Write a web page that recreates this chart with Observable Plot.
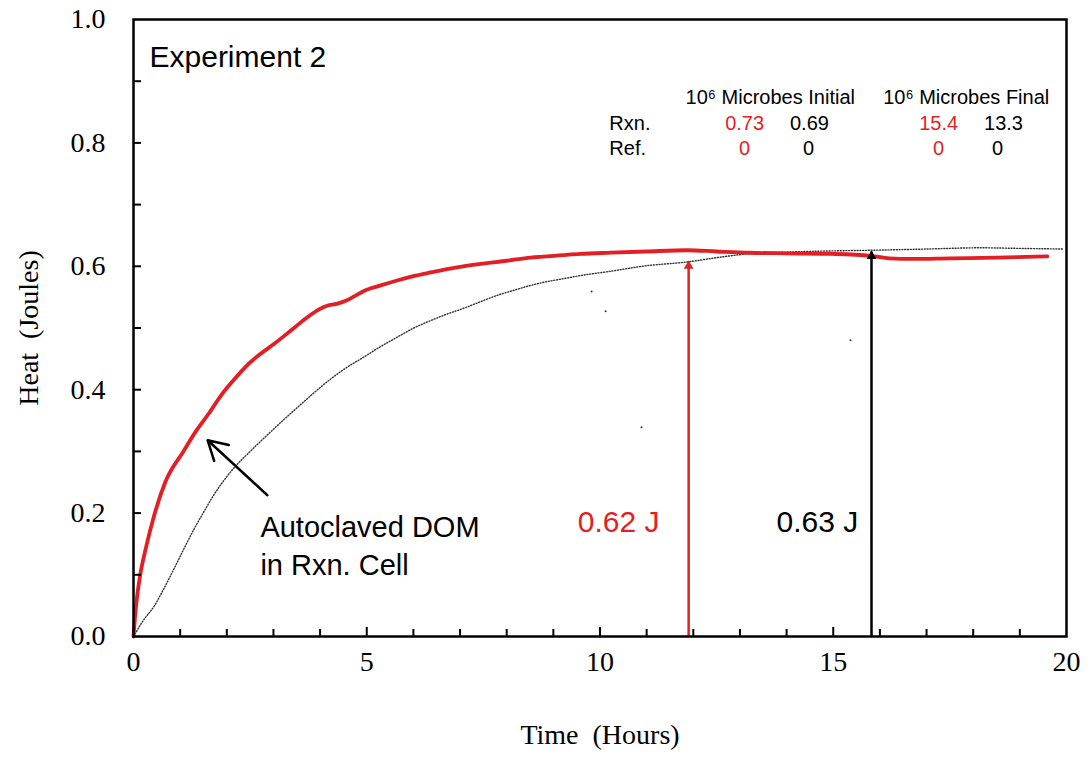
<!DOCTYPE html>
<html><head><meta charset="utf-8">
<script src="https://cdn.jsdelivr.net/npm/d3@7"></script>
<script src="https://cdn.jsdelivr.net/npm/@observablehq/plot@0.6"></script>
<style>body{margin:0;background:#fff}</style>
</head><body><div id="chart"></div>
<script>
// ---- data ----
const rxnTime = [0,0.03,0.07,0.14,0.28,0.45,0.68,1.07,1.35,1.61,1.89,2.14,2.44,2.72,3.01,3.44,3.72,3.95,4.15,4.35,4.55,4.75,4.94,5.3,5.65,6.0,6.37,6.9,7.44,8.0,8.51,9.2,9.58,10.23,11.0,11.87,12.5,13.2,14.0,15.0,15.8,16.2,16.7,17.5,18.5,19.59];
const rxnHeat = [0,0.03,0.06,0.098,0.148,0.198,0.25,0.30,0.334,0.361,0.392,0.415,0.44,0.458,0.474,0.50,0.517,0.529,0.536,0.539,0.544,0.552,0.560,0.569,0.577,0.584,0.590,0.598,0.604,0.609,0.614,0.618,0.620,0.622,0.624,0.626,0.624,0.622,0.621,0.620,0.617,0.613,0.612,0.613,0.614,0.616];
const refTime = [0,0.21,0.45,0.64,0.85,1.1,1.29,1.5,1.71,2.14,2.5,2.86,3.2,3.57,3.9,4.22,4.55,4.94,5.3,5.65,6.01,6.37,6.7,7.08,7.45,7.8,8.15,8.51,8.85,9.22,9.58,10.23,11.0,11.87,12.5,13.15,14.0,15.0,15.8,17.0,18.16,19.0,19.94];
const refHeat = [0,0.026,0.05,0.076,0.107,0.145,0.173,0.201,0.228,0.272,0.30,0.326,0.35,0.375,0.397,0.417,0.435,0.453,0.470,0.485,0.50,0.512,0.522,0.532,0.543,0.553,0.561,0.569,0.575,0.580,0.585,0.592,0.601,0.607,0.614,0.620,0.623,0.625,0.626,0.628,0.630,0.629,0.628];
const strayTime = [9.82,10.12,15.37,10.89];
const strayHeat = [0.559,0.527,0.48,0.339];

const xTickLabels = [0,5,10,15,20];
const yTickLabels = [0,0.2,0.4,0.6,0.8,1.0];
const xMinorTicks = [1,2,3,4,6,7,8,9,11,12,13,14,16,17,18,19];
const xMajorTicks = [5,10,15];
const yMinorTicks = [0.1,0.2,0.3,0.4,0.5,0.6,0.7,0.8,0.9];

const tableHeaders = ["10⁶ Microbes Initial","10⁶ Microbes Final"];
const tableRows = ["Rxn.","Ref."];
const initialRxn = ["0.73","0.69"];   // [red, black]
const initialRef = ["0","0"];
const finalRxn = ["15.4","13.3"];
const finalRef = ["0","0"];

const finalHeatLabels = ["0.62 J","0.63 J"];   // [red, black]
const arrowTimes = [11.9, 15.82];
const arrowHeats = [0.607, 0.623];

const RED = "#e31e24";
const W = 1092, H = 757, mL = 133, mR = 26, mT = 19, mB = 121;
const plotW = W - mL - mR, plotH = H - mT - mB;
const SANS = "Liberation Sans, Arial, sans-serif";
const SERIF = "Liberation Serif, Times New Roman, serif";

const rxn = rxnTime.map((t,i)=>({t, h: rxnHeat[i]}));
const ref = refTime.map((t,i)=>({t, h: refHeat[i]}));
const stray = strayTime.map((t,i)=>({t, h: strayHeat[i]}));

// table layout (positions in data units)
const colX = {hdr:[13.65,17.85], red:[13.1,17.26], blk:[14.49,18.65], blk0:[14.47,18.52]};
const rowY = {hdr:0.874, rxn:0.831, ref:0.791};
const tableCells = [
  ...tableHeaders.map((s,i)=>({x:colX.hdr[i], y:rowY.hdr, s, c:"black", a:"middle"})),
  ...tableRows.map((s,i)=>({x:10.2, y:i===0?rowY.rxn:rowY.ref, s, c:"black", a:"start"})),
  {x:colX.red[0], y:rowY.rxn, s:initialRxn[0], c:RED, a:"middle"},
  {x:colX.blk[0], y:rowY.rxn, s:initialRxn[1], c:"black", a:"middle"},
  {x:colX.red[0], y:rowY.ref, s:initialRef[0], c:RED, a:"middle"},
  {x:colX.blk0[0], y:rowY.ref, s:initialRef[1], c:"black", a:"middle"},
  {x:colX.red[1], y:rowY.rxn, s:finalRxn[0], c:RED, a:"middle"},
  {x:colX.blk[1], y:rowY.rxn, s:finalRxn[1], c:"black", a:"middle"},
  {x:colX.red[1], y:rowY.ref, s:finalRef[0], c:RED, a:"middle"},
  {x:colX.blk0[1], y:rowY.ref, s:finalRef[1], c:"black", a:"middle"}
];

const arrows = arrowTimes.map((t,i)=>({t, h: arrowHeats[i], c: i===0?RED:"black"}));
const heatLabels = finalHeatLabels.map((s,i)=>({s, x: i===0?10.4:14.66, c: i===0?RED:"black"}));

const chart = Plot.plot({
  width: W, height: H,
  marginLeft: mL, marginRight: mR, marginTop: mT, marginBottom: mB,
  style: {background:"white", fontFamily: SERIF},
  x: {domain:[0,20]},
  y: {domain:[0,1]},
  marks: [
    Plot.line(ref, {x:"t", y:"h", stroke:"#333", strokeWidth:1.4, strokeDasharray:"1,1.8", curve:"monotone-x"}),
    Plot.dot(stray, {x:"t", y:"h", r:1, fill:"#333"}),
    Plot.line(rxn, {x:"t", y:"h", stroke:RED, strokeWidth:3.8, curve:"monotone-x"}),
    Plot.ruleX(arrows, {x:"t", y1:()=>0, y2:"h", stroke:"c", strokeWidth:2.5}),
    Plot.dot(arrows, {x:"t", y:"h", symbol:"triangle", r:3.6, fill:"c", stroke:null, dy:4}),
    Plot.arrow([{x1:2.87,y1:0.229,x2:1.59,y2:0.318}], {x1:"x1",y1:"y1",x2:"x2",y2:"y2", stroke:"black", strokeWidth:2.5, headLength:13}),
    Plot.frame({stroke:"black", strokeWidth:2.5}),
    Plot.tickY(yMinorTicks, {y:d=>d, insetRight: plotW-8, stroke:"black", strokeWidth:2}),
    Plot.tickX(xMinorTicks, {x:d=>d, insetTop: plotH-7, stroke:"black", strokeWidth:2}),
    Plot.tickX(xMajorTicks, {x:d=>d, insetTop: plotH-9, stroke:"black", strokeWidth:2}),
    Plot.axisX({ticks:xTickLabels, tickSize:0, tickPadding:15, fontSize:28, fontFamily:SERIF, tickFormat:d=>String(d), label:null}),
    Plot.axisY({ticks:yTickLabels, tickSize:0, tickPadding:28, fontSize:28, fontFamily:SERIF, tickFormat:d3.format(".1f"), label:null}),
    Plot.text(["Heat  (Joules)"], {x:()=>-2.25, y:()=>0.5, rotate:-90, textAnchor:"middle", lineAnchor:"middle", fontSize:28, fontFamily:SERIF, fill:"black", clip:false}),
    Plot.text(["Time  (Hours)"], {x:()=>10, y:()=>-0.16, textAnchor:"middle", lineAnchor:"middle", fontSize:28, fontFamily:SERIF, fill:"black", clip:false}),
    Plot.text(["Experiment 2"], {x:()=>0.343, y:()=>0.938, textAnchor:"start", fontSize:30, fontFamily:SANS, fill:"black"}),
    Plot.text(tableCells, {x:"x", y:"y", text:"s", fill:"c", textAnchor:"middle", fontSize:20, fontFamily:SANS, filter:d=>d.a==="middle"}),
    Plot.text(tableCells, {x:"x", y:"y", text:"s", fill:"c", textAnchor:"start", fontSize:20, fontFamily:SANS, filter:d=>d.a==="start"}),
    Plot.text(heatLabels, {x:"x", y:()=>0.185, text:"s", fill:"c", fontSize:30, fontFamily:SANS}),
    Plot.text(["Autoclaved DOM","in Rxn. Cell"], {x:()=>2.72, y:(d,i)=>i===0?0.177:0.115, text:d=>d, textAnchor:"start", fontSize:29, fontFamily:SANS, fill:"black"})
  ]
});
document.getElementById("chart").appendChild(chart);
</script>
</body></html>
